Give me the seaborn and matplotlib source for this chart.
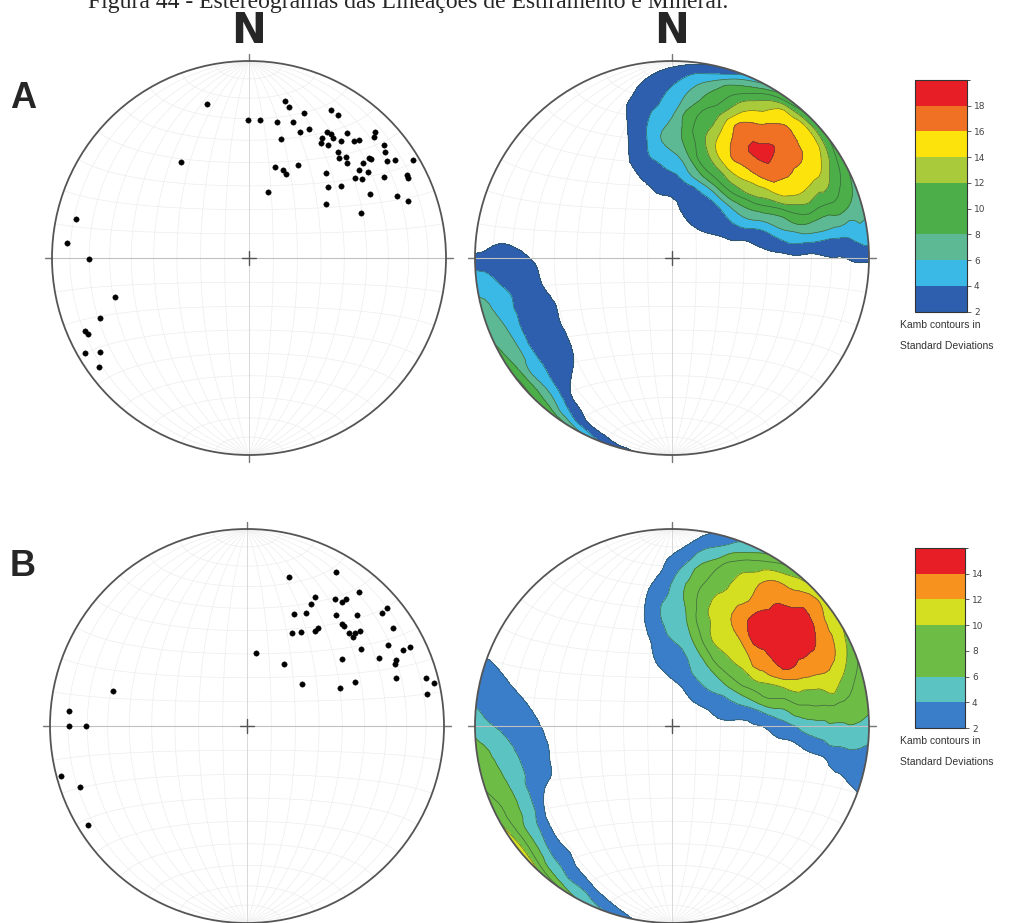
import numpy as np
import pandas as pd
import matplotlib
matplotlib.use("Agg")
import matplotlib.pyplot as plt
from matplotlib.colors import ListedColormap, BoundaryNorm
from matplotlib.cm import ScalarMappable
from matplotlib.patches import Circle
import seaborn as sns

# lineation poles (x = east, y = north, unit = primitive radius)
a_x = [-0.214, 0.183, 0.203, -0.003, 0.056, 0.144, 0.224, 0.281, 0.415, 0.453,
       0.305, 0.258, 0.161, 0.369, 0.368, 0.402, 0.398, 0.415, 0.427, 0.466,
       0.497, 0.532, 0.558, 0.639, 0.637, 0.686, 0.690, 0.453, 0.456, 0.492,
       0.498, 0.610, 0.617, 0.578, 0.703, 0.742, 0.831, 0.132, 0.171, 0.190,
       0.251, 0.390, 0.556, 0.605, 0.536, 0.575, 0.685, 0.802, 0.807, 0.400,
       0.469, 0.095, 0.612, 0.751, 0.805, 0.393, 0.571, -0.344, -0.878, -0.925,
       -0.814, -0.681, -0.756, -0.834, -0.817, -0.831, -0.758, -0.761]
a_y = [0.780, 0.797, 0.769, 0.702, 0.700, 0.688, 0.690, 0.736, 0.749, 0.725,
       0.656, 0.642, 0.605, 0.610, 0.586, 0.576, 0.639, 0.631, 0.610, 0.595,
       0.636, 0.592, 0.597, 0.641, 0.614, 0.573, 0.539, 0.537, 0.507, 0.515,
       0.480, 0.508, 0.502, 0.483, 0.490, 0.498, 0.498, 0.461, 0.447, 0.427,
       0.473, 0.431, 0.447, 0.437, 0.405, 0.403, 0.410, 0.420, 0.407, 0.358,
       0.364, 0.336, 0.324, 0.317, 0.290, 0.275, 0.229, 0.485, 0.198, 0.076,
       -0.005, -0.198, -0.307, -0.373, -0.385, -0.480, -0.475, -0.554]

b_x = [0.214, 0.450, 0.567, 0.347, 0.327, 0.449, 0.482, 0.501, 0.239, 0.302,
       0.452, 0.560, 0.683, 0.713, 0.229, 0.273, 0.346, 0.359, 0.484, 0.494,
       0.518, 0.536, 0.546, 0.575, 0.740, 0.580, 0.715, 0.793, 0.826, 0.484,
       0.671, 0.754, 0.749, 0.755, 0.044, 0.187, 0.280, 0.474, 0.548, 0.907,
       0.949, 0.916, -0.681, -0.902, -0.906, -0.818, -0.944, -0.850, -0.806]
b_y = [0.755, 0.781, 0.678, 0.656, 0.619, 0.644, 0.629, 0.644, 0.567, 0.573,
       0.562, 0.562, 0.575, 0.599, 0.472, 0.476, 0.482, 0.499, 0.519, 0.509,
       0.470, 0.452, 0.472, 0.484, 0.499, 0.393, 0.411, 0.388, 0.403, 0.341,
       0.344, 0.334, 0.317, 0.246, 0.371, 0.314, 0.212, 0.192, 0.223, 0.243,
       0.219, 0.162, 0.180, 0.078, 0.000, 0.000, -0.253, -0.309, -0.503]

# Kamb contour levels (standard deviations) and colours
a_levels = [2, 4, 6, 8, 10, 12, 14, 16, 18, 20]
a_colors = ["#2d5fae", "#3ab9e6", "#5db894", "#4cae48", "#4cae48",
            "#a9cb3b", "#fde30c", "#f07124", "#e81e26"]
b_levels = [2, 4, 6, 8, 10, 12, 14, 16]
b_colors = ["#3a7dc9", "#5cc3c3", "#6cbc46", "#6cbc46", "#d5df22",
            "#f7921e", "#e81e26"]

W, H = 1016, 923
R = 197
L = 1.08

sns.set_style("white")
fig = plt.figure(figsize=(W / 100, H / 100), dpi=100)


def net_axes(cx, cy):
    ax = fig.add_axes([(cx - L * R) / W, (H - cy - L * R) / H, 2 * L * R / W, 2 * L * R / H])
    ax.set_xlim(-L, L)
    ax.set_ylim(-L, L)
    ax.set_aspect("equal")
    ax.axis("off")
    return ax


def project(lon, lat):
    # equatorial Schmidt (equal-area) net, primitive radius 1
    k = np.sqrt(1.0 / (1 + np.cos(lat) * np.cos(lon)))
    return k * np.cos(lat) * np.sin(lon), k * np.sin(lat)


def draw_net(ax):
    t = np.radians(np.linspace(-90, 90, 361))
    for d in range(-80, 81, 10):
        x, y = project(np.radians(d) * np.ones_like(t), t)
        ax.plot(x, y, color="#ededed", lw=0.5, zorder=1)
        x, y = project(t, np.radians(d) * np.ones_like(t))
        ax.plot(x, y, color="#ededed", lw=0.5, zorder=1)
    ax.plot([-1.03, 1.03], [0, 0], color="#c0c0c0", lw=0.8, zorder=4)
    ax.plot([0, 0], [-1.03, 1.03], color="#d5d5d5", lw=0.6, zorder=1)
    for sx, sy in [(1, 0), (-1, 0), (0, 1), (0, -1)]:
        ax.plot([sx, sx * 1.035], [sy, sy * 1.035], color="#777777", lw=1.0, zorder=5)
    ax.plot([-0.035, 0.035], [0, 0], color="#555555", lw=1.0, zorder=5)
    ax.plot([0, 0], [-0.035, 0.035], color="#555555", lw=1.0, zorder=5)
    ax.add_patch(Circle((0, 0), 1, fill=False, ec="#555555", lw=1.3, zorder=6))


def to_vec(x, y):
    x = np.asarray(x, float)
    y = np.asarray(y, float)
    r = np.hypot(x, y)
    th = 2 * np.arcsin(np.clip(r / np.sqrt(2), 0, 1))
    az = np.arctan2(x, y)
    return np.stack([np.sin(th) * np.sin(az), np.sin(th) * np.cos(az), np.cos(th)], -1)


def kamb(px, py, gx, gy):
    # Kamb counting cone (soft edge), result in standard deviations
    pts = to_vec(px, py)
    nodes = to_vec(gx.ravel(), gy.ravel())
    n = len(pts)
    area = 9.0 / (n + 9.0)
    c = np.abs(nodes @ pts.T)
    count = (0.5 * (1 + np.tanh((c - (1 - area)) / 0.015))).sum(axis=1)
    sigma = np.sqrt(n * area * (1 - area))
    return (count / sigma).reshape(gx.shape)


def panel(cy, px, py, levels, colors, letter, north, cbar_box, tick_vals):
    # points net
    ax = net_axes(249 if cy < 400 else 247, cy)
    draw_net(ax)
    df = pd.DataFrame({"x": px, "y": py})
    sns.scatterplot(data=df, x="x", y="y", ax=ax, color="black", s=15,
                    edgecolor="black", linewidth=0.3, zorder=7, legend=False)
    ax.set_xlim(-L, L)
    ax.set_ylim(-L, L)
    ax.axis("off")

    # contour net
    ax2 = net_axes(672, cy)
    draw_net(ax2)
    g = np.linspace(-1.03, 1.03, 81)
    gx, gy = np.meshgrid(g, g)
    dens = kamb(px, py, gx, gy)
    lev = levels[:-1] + [1000]
    cf = ax2.contourf(gx, gy, dens, levels=lev, colors=colors, zorder=2)
    cl = ax2.contour(gx, gy, dens, levels=levels[:-1], colors="#33503a",
                     linewidths=0.5, alpha=0.8, zorder=3)
    clip = Circle((0, 0), 1, transform=ax2.transData)
    cf.set_clip_path(clip)
    cl.set_clip_path(clip)

    if north:
        for cx in (249, 672):
            fig.text(cx / W, 1 - 31 / H, "N", ha="center", va="center",
                     fontsize=30, fontweight="bold", family="Liberation Sans Narrow")
    fig.text(10 / W, 1 - (cy - 160) / H, letter, ha="left", va="center",
             fontsize=26, fontweight="bold", family="Liberation Sans")

    # colorbar
    x0, x1, y0, y1 = cbar_box
    cax = fig.add_axes([x0 / W, 1 - y1 / H, (x1 - x0) / W, (y1 - y0) / H])
    sm = ScalarMappable(norm=BoundaryNorm(levels, len(colors)), cmap=ListedColormap(colors))
    cb = fig.colorbar(sm, cax=cax, boundaries=levels, ticks=tick_vals)
    cb.outline.set_edgecolor("#333333")
    cb.outline.set_linewidth(0.8)
    cax.tick_params(labelsize=6.5, length=3, width=0.6, colors="#444444", pad=2)
    fig.text(900 / W, 1 - (y1 + 13) / H, "Kamb contours in", fontsize=7.5,
             color="#333333", va="center", family="Liberation Sans")
    fig.text(900 / W, 1 - (y1 + 34) / H, "Standard Deviations", fontsize=7.5,
             color="#333333", va="center", family="Liberation Sans")


panel(258, a_x, a_y, a_levels, a_colors, "A", True, (915, 967, 80, 311.7),
      [2, 4, 6, 8, 10, 12, 14, 16, 18])
panel(726, b_x, b_y, b_levels, b_colors, "B", False, (915, 965, 548, 728),
      [2, 4, 6, 8, 10, 12, 14])

fig.text(88 / W, 1 - 8 / H, "Figura 44 - Estereogramas das Lineações de Estiramento e Mineral.",
         ha="left", va="baseline", fontsize=17, family="Liberation Serif")

fig.savefig("out.png", dpi=100)
